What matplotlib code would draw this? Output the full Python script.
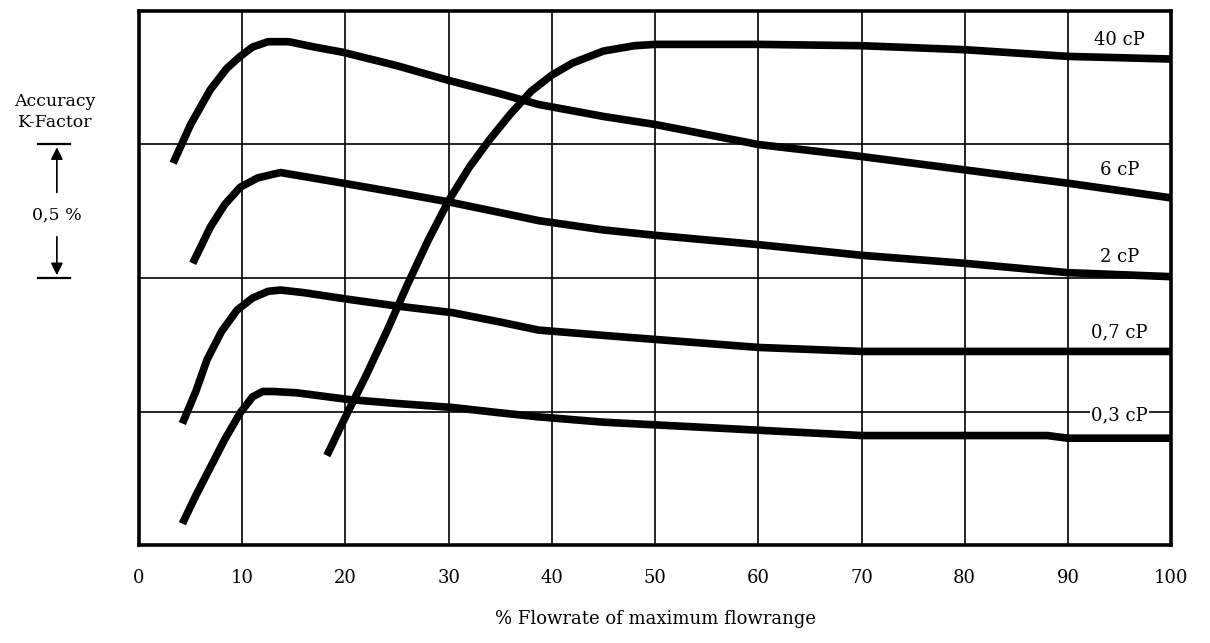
import matplotlib.pyplot as plt
from matplotlib import transforms

plt.rcParams['font.family'] = ['DejaVu Serif']

# curves: flowrate (%) and accuracy (units of 0.5 %)
x_40cp = [18.2, 20, 22, 24, 26, 28, 30, 32, 34, 36, 38, 40, 42, 45, 48, 50, 60, 70, 80, 90, 100]
y_40cp = [0.67, 0.96, 1.27, 1.6, 1.95, 2.28, 2.58, 2.83, 3.04, 3.23, 3.4, 3.52, 3.61, 3.7, 3.74,
          3.75, 3.75, 3.74, 3.71, 3.66, 3.64]

x_6cp = [3.3, 5, 6.9, 8.5, 9.8, 11, 12.5, 14.5, 17, 19.8, 25, 30, 35, 38.7, 45, 50, 60, 70, 80, 90, 100]
y_6cp = [2.86, 3.15, 3.41, 3.57, 3.66, 3.73, 3.77, 3.77, 3.73, 3.69, 3.59, 3.48, 3.38, 3.3, 3.21,
         3.15, 3.0, 2.91, 2.81, 2.71, 2.6]

x_2cp = [5.2, 6.9, 8.3, 9.8, 11.5, 13.7, 16, 19.8, 25, 30, 35, 38.7, 45, 50, 60, 70, 80, 90, 100]
y_2cp = [2.11, 2.38, 2.55, 2.68, 2.75, 2.79, 2.76, 2.71, 2.64, 2.57, 2.49, 2.43, 2.36, 2.32, 2.25,
         2.17, 2.11, 2.04, 2.01]

x_07cp = [4.2, 5.5, 6.6, 8, 9.5, 11, 12.5, 13.7, 16, 20.3, 25, 30.4, 35, 38.7, 45, 50, 60, 70, 80,
          90, 100]
y_07cp = [0.91, 1.15, 1.39, 1.6, 1.76, 1.85, 1.9, 1.91, 1.89, 1.84, 1.79, 1.74, 1.67, 1.61, 1.57,
          1.54, 1.48, 1.45, 1.45, 1.45, 1.45]

x_03cp = [4.2, 5.5, 6.9, 8.3, 9.8, 11, 12, 13, 15.3, 20.3, 25, 30.4, 35, 38.7, 45, 50, 60, 70, 80,
          88, 90, 100]
y_03cp = [0.16, 0.37, 0.58, 0.79, 0.99, 1.11, 1.15, 1.15, 1.14, 1.09, 1.06, 1.03, 0.99, 0.96, 0.92,
          0.9, 0.86, 0.82, 0.82, 0.82, 0.8, 0.8]

curve_labels = ['40 cP', '6 cP', '2 cP', '0,7 cP', '0,3 cP']
label_y = [3.78, 2.81, 2.16, 1.59, 0.97]
x_ticks = [0, 10, 20, 30, 40, 50, 60, 70, 80, 90, 100]

fig = plt.figure(figsize=(12.1, 6.43), dpi=100)
ax = fig.add_axes([0.1149, 0.1524, 0.853, 0.8305])

for xs, ys in [(x_40cp, y_40cp), (x_6cp, y_6cp), (x_2cp, y_2cp), (x_07cp, y_07cp), (x_03cp, y_03cp)]:
    ax.plot(xs, ys, color='black', lw=5.5, solid_capstyle='butt', solid_joinstyle='round', zorder=3)

for name, yl in zip(curve_labels, label_y):
    ax.text(95, yl, name, ha='center', va='center', fontsize=13, zorder=4,
            bbox=dict(facecolor='white', edgecolor='none', pad=1.0))

ax.set_xlim(0, 100)
ax.set_ylim(0, 4)
ax.set_xticks(x_ticks)
ax.set_xticklabels([str(t) for t in x_ticks], fontsize=13)
ax.set_yticks([1, 2, 3])
ax.set_yticklabels([])
ax.tick_params(length=0, pad=17)
ax.grid(True, color='black', lw=1.2)
ax.set_axisbelow(True)
for s in ax.spines.values():
    s.set_linewidth(2.6)
ax.set_xlabel('% Flowrate of maximum flowrange', fontsize=13, labelpad=17)

# accuracy bracket on the left
tr = transforms.blended_transform_factory(fig.transFigure, ax.transData)
fig.text(0.0455, 0.826, 'Accuracy\nK-Factor', ha='center', va='center', fontsize=12.5,
         linespacing=1.35)
for yb in [2.0, 3.0]:
    ax.plot([0.031, 0.058], [yb, yb], transform=tr, color='black', lw=1.6, clip_on=False)
ax.annotate('', xy=(0.047, 3.0), xytext=(0.047, 2.62), xycoords=tr, textcoords=tr,
            arrowprops=dict(arrowstyle='-|>', color='black', lw=1.2, mutation_scale=18))
ax.annotate('', xy=(0.047, 2.0), xytext=(0.047, 2.33), xycoords=tr, textcoords=tr,
            arrowprops=dict(arrowstyle='-|>', color='black', lw=1.2, mutation_scale=18))
ax.text(0.047, 2.47, '0,5 %', transform=tr, ha='center', va='center', fontsize=12.5)

fig.savefig('out.png', dpi=100)
